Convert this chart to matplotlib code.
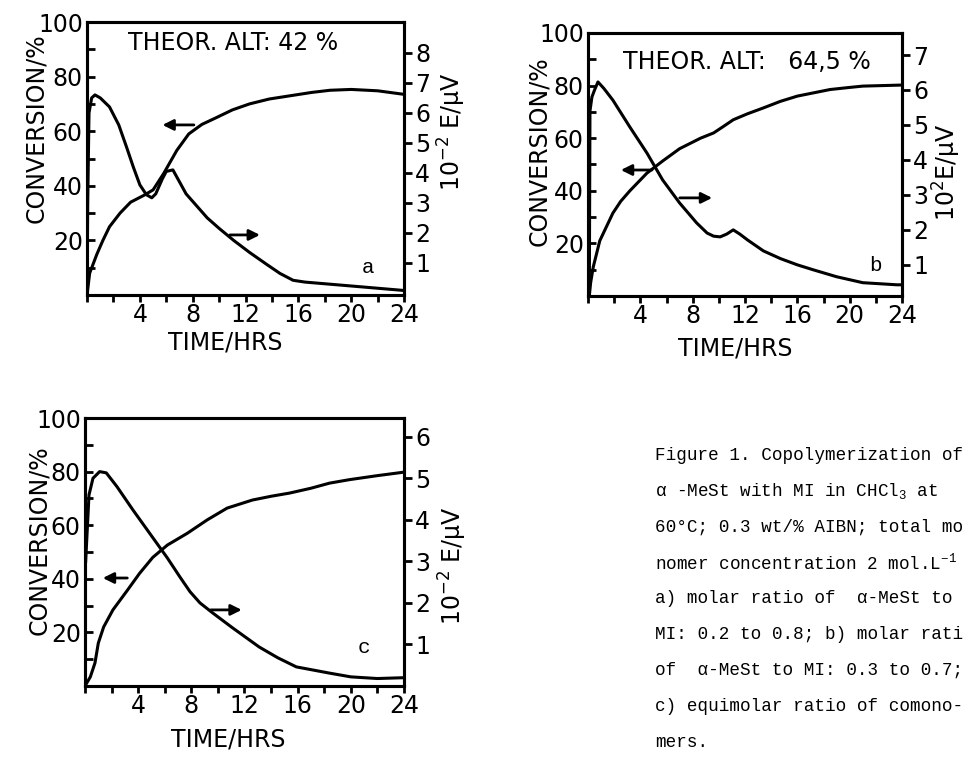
import numpy as np
import matplotlib
matplotlib.use('Agg')
import matplotlib.pyplot as plt
from matplotlib.ticker import MultipleLocator, FixedLocator

# Panel a: conversion (left axis, %) and E (right axis, 10^-2 uV)
t_a_conv = [0, 0.2, 0.75, 1.2, 1.7, 2.5, 3.3, 4.3, 5.0, 5.8, 6.8, 7.7, 8.7, 9.8, 11.0, 12.3,
            13.8, 15.4, 17.0, 18.4, 20.0, 22.0, 24.0]
conv_a = [0, 8, 15, 20, 25, 30, 34, 36.5, 38.5, 44.5, 53, 59, 62.5, 65, 67.8, 70,
          71.8, 73, 74.2, 75, 75.3, 74.8, 73.5]
t_a_e = [0, 0.05, 0.15, 0.35, 0.6, 1.0, 1.7, 2.4, 3.0, 3.5, 4.0, 4.5, 4.9, 5.2, 5.4, 5.7,
         6.0, 6.5, 7.0, 7.5, 8.3, 9.1, 10.0, 11.1, 12.3, 13.6, 14.6, 15.6, 16.5, 20.0, 24.0]
e_a = [0, 3.0, 6.0, 6.5, 6.6, 6.5, 6.2, 5.6, 4.85, 4.2, 3.6, 3.27, 3.17, 3.3, 3.5, 3.8,
       4.05, 4.1, 3.7, 3.3, 2.9, 2.5, 2.15, 1.75, 1.35, 0.95, 0.65, 0.42, 0.36, 0.23, 0.08]

# Panel b
t_b_conv = [0.1, 0.2, 0.4, 0.9, 1.9, 2.5, 3.2, 4.5, 5.7, 7.0, 8.6, 9.6, 10.3, 11.1, 12.2, 13.4,
            14.7, 16.0, 17.0, 18.5, 20.0, 21.0, 24.0]
conv_b = [0, 5, 11, 21, 31.5, 36, 40, 46.7, 51.3, 56, 60, 62, 64.3, 67, 69.3, 71.5,
          74, 76, 77, 78.5, 79.3, 79.8, 80.2]
t_b_e = [0.1, 0.15, 0.3, 0.5, 0.76, 1.2, 1.9, 3.2, 4.5, 5.7, 7.0, 8.3, 9.1, 9.6, 10.1, 10.6,
         11.1, 11.6, 12.2, 13.4, 14.7, 16.0, 17.2, 19.0, 21.0, 23.6, 24.0]
e_b = [0.11, 5.4, 5.8, 6.0, 6.23, 6.05, 5.71, 4.94, 4.2, 3.43, 2.77, 2.2, 1.91, 1.82, 1.8, 1.88,
       2.0, 1.88, 1.71, 1.4, 1.18, 1.0, 0.86, 0.66, 0.49, 0.43, 0.43]

# Panel c
t_c_conv = [0, 0.4, 0.75, 1.0, 1.4, 2.1, 3.2, 4.1, 5.1, 6.2, 7.7, 9.2, 10.7, 12.6, 14.0, 15.4,
            17.0, 18.4, 19.9, 22.0, 24.0]
conv_c = [0, 3.4, 8.6, 16, 22, 28.4, 35.8, 42, 48, 52.6, 57, 62, 66.4, 69.4, 70.8, 72,
          73.8, 75.7, 77, 78.5, 79.8]
t_c_e = [0.05, 0.3, 0.6, 1.1, 1.6, 2.4, 3.6, 4.9, 6.2, 7.15, 7.9, 8.65, 9.6, 11.1, 13.1, 14.5,
         15.9, 18.4, 20.0, 22.0, 24.0]
e_c = [3.0, 4.6, 5.0, 5.16, 5.13, 4.8, 4.24, 3.66, 3.08, 2.62, 2.27, 2.0, 1.76, 1.4, 0.94, 0.68,
       0.46, 0.31, 0.22, 0.18, 0.2]

x_ticks = [4, 8, 12, 16, 20, 24]
left_ticks = [20, 40, 60, 80, 100]

caption = [
    "Figure 1. Copolymerization of",
    "\u03b1 -MeSt with MI in CHCl$_\\mathrm{3}$ at",
    "60\u00b0C; 0.3 wt/% AIBN; total mo",
    "nomer concentration 2 mol.L$^\\mathrm{-1}$",
    "a) molar ratio of  \u03b1-MeSt to",
    "MI: 0.2 to 0.8; b) molar rati",
    "of  \u03b1-MeSt to MI: 0.3 to 0.7;",
    "c) equimolar ratio of comono-",
    "mers.",
]

plt.rcParams['mathtext.fontset'] = 'custom'
plt.rcParams['mathtext.rm'] = 'Liberation Mono'

FONT = dict(family=['Liberation Sans Narrow', 'DejaVu Sans'])
FS = 17

fig = plt.figure(figsize=(9.66, 7.67), dpi=100)


def make_panel(rect, e_top, e_bottom, e_ticks, letter, letter_pos,
               tc, conv, te, e, larrow, rarrow, right_label, lab_pos):
    ax = fig.add_axes(rect)
    ax2 = ax.twinx()
    ax.plot(tc, conv, color='k', lw=2.2, solid_joinstyle='round')
    ax2.plot(te, e, color='k', lw=2.2, solid_joinstyle='round')
    ax.set_xlim(0, 24)
    ax.set_ylim(0, 100)
    ax2.set_ylim(e_bottom, e_top)
    ax.xaxis.set_major_locator(FixedLocator(x_ticks))
    ax.xaxis.set_minor_locator(MultipleLocator(2))
    ax.yaxis.set_major_locator(FixedLocator(left_ticks))
    ax.yaxis.set_minor_locator(MultipleLocator(10))
    ax2.yaxis.set_major_locator(FixedLocator(e_ticks))
    ax.tick_params(axis='x', which='both', direction='out', length=5, width=2, pad=1)
    ax.tick_params(axis='y', which='both', direction='in', length=6, width=2, pad=3)
    ax2.tick_params(axis='y', direction='out', length=6, width=2, pad=2)
    for a in (ax, ax2):
        for s in a.spines.values():
            s.set_linewidth(2.2)
    for lab in ax.get_xticklabels() + ax.get_yticklabels() + ax2.get_yticklabels():
        lab.set_fontfamily(FONT['family'])
        lab.set_fontsize(FS)
    ax.annotate('', xy=(larrow[0], larrow[2]), xytext=(larrow[1], larrow[2]),
                arrowprops=dict(arrowstyle='-|>', lw=2, color='k', mutation_scale=16))
    ax.annotate('', xy=(rarrow[1], rarrow[2]), xytext=(rarrow[0], rarrow[2]),
                arrowprops=dict(arrowstyle='-|>', lw=2, color='k', mutation_scale=16))
    ax.text(letter_pos[0], letter_pos[1], letter, family='Liberation Mono',
            fontsize=15, ha='center', va='center')
    ax.text(lab_pos[0], lab_pos[1], 'CONVERSION/%', transform=ax.transAxes,
            rotation=90, ha='center', va='center', fontsize=FS, **FONT)
    ax.text(lab_pos[2], lab_pos[3], right_label, transform=ax.transAxes,
            rotation=90, ha='center', va='center', fontsize=FS,
            math_fontfamily='dejavusans', **FONT)
    ax.text(lab_pos[4], lab_pos[5], 'TIME/HRS', transform=ax.transAxes,
            ha='center', va='center', fontsize=FS, **FONT)
    return ax


ax_a = make_panel([0.0901, 0.6154, 0.3282, 0.3559], 9.03, -0.07, [1, 2, 3, 4, 5, 6, 7, 8],
                  'a', (21.3, 10), t_a_conv, conv_a, t_a_e, e_a,
                  (5.5, 8.3, 62.3), (10.6, 13.3, 22.0), '10$^{-2}$ E/\u03bcV',
                  (-0.16, 0.61, 1.151, 0.60, 0.435, -0.175))
ax_a.text(3.1, 92.3, 'THEOR. ALT: 42 %', ha='left', va='center', fontsize=FS, **FONT)

ax_b = make_panel([0.6087, 0.6141, 0.3251, 0.3429], 7.63, 0.11, [1, 2, 3, 4, 5, 6, 7],
                  'b', (22.0, 11.5), t_b_conv, conv_b, t_b_e, e_b,
                  (2.3, 5.1, 47.9), (6.8, 9.7, 37.3), '10$^{2}$E/\u03bcV',
                  (-0.155, 0.55, 1.143, 0.47, 0.47, -0.2))
ax_b.text(2.7, 89, 'THEOR. ALT:   64,5 %', ha='left', va='center', fontsize=FS, **FONT)

ax_c = make_panel([0.088, 0.1056, 0.3302, 0.3494], 6.45, 0.0, [1, 2, 3, 4, 5, 6],
                  'c', (21.0, 14.5), t_c_conv, conv_c, t_c_e, e_c,
                  (1.13, 3.39, 40.3), (9.25, 12.0, 28.4), '10$^{-2}$ E/\u03bcV',
                  (-0.145, 0.545, 1.154, 0.45, 0.45, -0.2))

y0 = 455
for i, line in enumerate(caption):
    fig.text(655 / 966, 1 - (y0 + i * 35.9) / 767, line, family='Liberation Mono',
             fontsize=12.7, ha='left', va='center', math_fontfamily='custom')

fig.savefig('out.png', dpi=100)
